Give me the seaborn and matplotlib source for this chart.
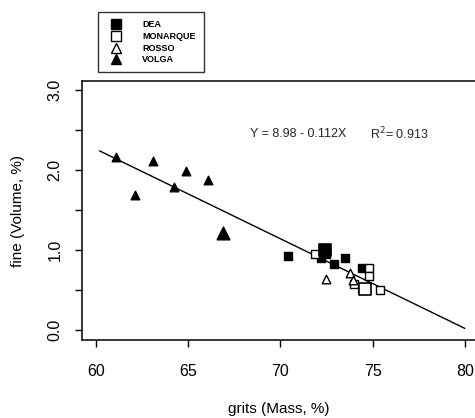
import numpy as np
import pandas as pd
import matplotlib
matplotlib.use('Agg')
import matplotlib.pyplot as plt
from matplotlib.lines import Line2D
import seaborn as sns

# values
dea_x = [70.4, 72.2, 72.5, 72.9, 73.5, 74.4]
dea_y = [0.93, 0.90, 0.95, 0.83, 0.90, 0.78]
monarque_x = [71.9, 74.8, 74.8, 74.0, 75.4]
monarque_y = [0.95, 0.78, 0.68, 0.57, 0.50]
rosso_x = [72.45, 73.75, 73.95, 74.4]
rosso_y = [0.64, 0.71, 0.62, 0.53]
volga_x = [61.1, 62.1, 63.1, 64.25, 64.9, 66.1]
volga_y = [2.16, 1.69, 2.11, 1.79, 1.98, 1.87]

# variety means (larger markers)
mean_names = ['DEA', 'MONARQUE', 'VOLGA']
mean_x = [72.4, 74.6, 66.9]
mean_y = [1.00, 0.51, 1.21]

# regression line Y = 8.98 - 0.112X
fit_a, fit_b = 8.98, -0.112
fit_x = [60.2, 80.0]

varieties = ['DEA', 'MONARQUE', 'ROSSO', 'VOLGA']
points = {'DEA': (dea_x, dea_y), 'MONARQUE': (monarque_x, monarque_y),
          'ROSSO': (rosso_x, rosso_y), 'VOLGA': (volga_x, volga_y)}
style = {'DEA': ('s', 'black'), 'MONARQUE': ('s', 'white'),
         'ROSSO': ('^', 'white'), 'VOLGA': ('^', 'black')}

sns.set_theme(style='ticks')
plt.rcParams['font.family'] = ['Liberation Sans', 'DejaVu Sans']

fig = plt.figure(figsize=(4.75, 4.18), dpi=100)
ax = fig.add_axes([0.1726, 0.1866, 0.8274, 0.6196])

for name in varieties:
    xs, ys = points[name]
    marker, face = style[name]
    df = pd.DataFrame({'grits': xs, 'fine': ys})
    sns.scatterplot(data=df, x='grits', y='fine', marker=marker, s=38,
                    color=face, edgecolor='black', linewidth=1.0, ax=ax, zorder=3)

for name, mx, my in zip(mean_names, mean_x, mean_y):
    marker, face = style[name]
    sns.scatterplot(x=[mx], y=[my], marker=marker, s=80, color=face,
                    edgecolor='black', linewidth=1.2, ax=ax, zorder=4)

fit_y = [fit_a + fit_b * v for v in fit_x]
sns.lineplot(x=fit_x, y=fit_y, color='black', linewidth=1.0, ax=ax, zorder=2)

ax.set_xlim(59.25, 80.55)
ax.set_ylim(-0.125, 3.11)
ax.set_xticks([60, 65, 70, 75, 80])
ax.set_yticks([0.0, 1.0, 2.0, 3.0])
ax.set_yticklabels(['0.0', '1.0', '2.0', '3.0'], rotation=90, va='center')
ax.set_yticks([0.5, 1.5, 2.5], minor=True)
ax.tick_params(axis='both', which='both', direction='out', length=5, width=1.0,
               color='black', labelsize=11.5, labelcolor='black')
ax.tick_params(axis='x', pad=12)
ax.tick_params(axis='y', pad=9)
ax.spines['right'].set_visible(False)
for sp in ['left', 'top', 'bottom']:
    ax.spines[sp].set_color('black')
    ax.spines[sp].set_linewidth(1.1)

ax.set_xlabel('grits (Mass, %)', fontsize=11, labelpad=17, color='black')
ax.set_ylabel('fine (Volume, %)', fontsize=11, labelpad=16, color='black')

ax.text(68.35, 2.45, 'Y = 8.98 - 0.112X', fontsize=9, va='center', ha='left')
ax.text(74.86, 2.45, 'R$^2$= 0.913', fontsize=9, va='center', ha='left')

handles = [Line2D([], [], linestyle='none', marker=style[n][0], markersize=7,
                  markerfacecolor=style[n][1], markeredgecolor='black',
                  markeredgewidth=1.0) for n in varieties]
leg = fig.legend(handles, varieties, loc='upper left',
                 bbox_to_anchor=(0.206, 0.971), frameon=True,
                 fancybox=False, edgecolor='black', borderpad=0.9,
                 handletextpad=1.8, handlelength=2.2, labelspacing=0.3,
                 borderaxespad=0, prop={'weight': 'bold', 'size': 6.5})
leg.get_frame().set_linewidth(1.0)
for t in leg.get_texts():
    t.set_color('black')

fig.savefig('out.png', dpi=100)
